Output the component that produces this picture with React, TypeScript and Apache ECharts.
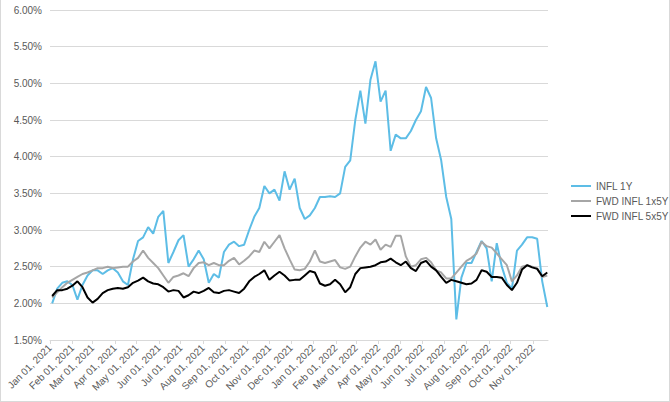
import React, { useEffect, useRef } from "react";
import * as echarts from "echarts";

// Weekly sample points starting Monday 2021-01-04 (one value per week per series)
const START = [2021, 0, 4];
const WEEKS = 99;

const INFL_1Y = [
  2.0, 2.2, 2.28, 2.3, 2.25, 2.05, 2.25, 2.38, 2.45, 2.45,
  2.4, 2.45, 2.48, 2.42, 2.3, 2.25, 2.6, 2.85, 2.9, 3.04,
  2.95, 3.18, 3.26, 2.55, 2.7, 2.86, 2.93, 2.5, 2.6, 2.72,
  2.6, 2.28, 2.4, 2.35, 2.7, 2.8, 2.84, 2.78, 2.8, 3.0,
  3.18, 3.3, 3.6, 3.5, 3.55, 3.4, 3.8, 3.55, 3.7, 3.3,
  3.15, 3.2, 3.3, 3.45, 3.45, 3.46, 3.45, 3.5, 3.86, 3.95,
  4.5, 4.9, 4.45, 5.05, 5.3, 4.75, 4.9, 4.08, 4.3, 4.25,
  4.25, 4.35, 4.5, 4.62, 4.95, 4.8, 4.25, 3.95, 3.45, 3.15,
  1.78, 2.35, 2.55, 2.55, 2.7, 2.85, 2.75, 2.3, 2.82, 2.5,
  2.28, 2.2, 2.72, 2.8, 2.9, 2.9, 2.88, 2.3, 1.95,
];

const FWD_1X5Y = [
  2.08, 2.15, 2.22, 2.28, 2.32, 2.36, 2.4, 2.42, 2.45, 2.48,
  2.48, 2.5, 2.48, 2.49, 2.5, 2.5, 2.57, 2.62, 2.72, 2.62,
  2.55, 2.48, 2.38, 2.28, 2.36, 2.38, 2.41, 2.37, 2.48, 2.55,
  2.56, 2.52, 2.55, 2.52, 2.52, 2.58, 2.62, 2.53, 2.58, 2.64,
  2.72, 2.7, 2.84, 2.75, 2.84, 2.93, 2.75, 2.6, 2.46, 2.45,
  2.47, 2.57, 2.72, 2.57, 2.55, 2.57, 2.59, 2.49, 2.47, 2.5,
  2.64, 2.76, 2.84, 2.8, 2.87, 2.73, 2.8, 2.77, 2.92, 2.92,
  2.64, 2.5, 2.52, 2.6, 2.62, 2.56, 2.45, 2.42, 2.34, 2.34,
  2.42, 2.5, 2.58, 2.62, 2.68, 2.84, 2.78, 2.76, 2.68, 2.6,
  2.52, 2.3, 2.38, 2.5, 2.52, 2.5, 2.48, 2.36, 2.38,
];

const FWD_5X5Y = [
  2.1, 2.18, 2.18, 2.2, 2.24, 2.3, 2.22, 2.08, 2.01, 2.06,
  2.14, 2.18, 2.2, 2.21, 2.2, 2.22, 2.28, 2.31, 2.35, 2.3,
  2.27, 2.26, 2.22, 2.16, 2.18, 2.17, 2.08, 2.11, 2.16, 2.14,
  2.17, 2.21, 2.15, 2.14, 2.17, 2.18, 2.16, 2.14, 2.2, 2.3,
  2.36, 2.4, 2.45, 2.32, 2.38, 2.43, 2.38, 2.31, 2.32, 2.32,
  2.38, 2.44, 2.42, 2.27, 2.24, 2.26, 2.32, 2.26, 2.15, 2.22,
  2.4, 2.48, 2.49, 2.5, 2.52, 2.56, 2.57, 2.61, 2.56, 2.52,
  2.57, 2.48, 2.44, 2.55, 2.58, 2.5, 2.45, 2.36, 2.28, 2.32,
  2.3, 2.28, 2.26, 2.27, 2.32, 2.45, 2.43, 2.36, 2.36, 2.35,
  2.25, 2.18, 2.28, 2.46, 2.52, 2.49, 2.47, 2.37, 2.42,
];

const SERIES_NAMES = ["INFL 1Y", "FWD INFL 1x5Y", "FWD INFL 5x5Y"];
const SERIES_COLORS = ["#5DBDE6", "#A6A6A6", "#000000"];
const MONTHS = ["Jan", "Feb", "Mar", "Apr", "May", "Jun", "Jul", "Aug", "Sep", "Oct", "Nov", "Dec"];

const AXIS_MIN = new Date(2021, 0, 1).getTime();
const AXIS_MAX = new Date(2022, 10, 22).getTime();

function weekDates(): number[] {
  const out: number[] = [];
  for (let i = 0; i < WEEKS; i++) {
    out.push(new Date(START[0], START[1], START[2] + 7 * i).getTime());
  }
  return out;
}

function fmtDate(v: number): string {
  const d = new Date(v);
  const dd = String(d.getDate()).padStart(2, "0");
  return `${MONTHS[d.getMonth()]} ${dd}, ${d.getFullYear()}`;
}

export default function App() {
  const ref = useRef<HTMLDivElement>(null);
  useEffect(() => {
    if (!ref.current) return;
    const chart = echarts.init(ref.current, null, { renderer: "svg" });
    const dates = weekDates();
    const all = [INFL_1Y, FWD_1X5Y, FWD_5X5Y];
    const textStyle = { color: "#595959", fontFamily: "Liberation Sans, Arial, sans-serif", fontSize: 10 };
    chart.setOption({
      animation: false,
      backgroundColor: "#ffffff",
      grid: { left: 50, right: 122, top: 10, bottom: 62, containLabel: false, outerBoundsMode: "none" },
      legend: {
        orient: "vertical",
        left: 566,
        top: 176,
        itemWidth: 20,
        itemHeight: 2,
        itemGap: 5,
        icon: "rect",
        textStyle,
        data: SERIES_NAMES,
      },
      xAxis: {
        type: "time",
        min: AXIS_MIN,
        max: AXIS_MAX,
        minInterval: 28 * 86400000,
        maxInterval: 30 * 86400000,
        axisLine: { lineStyle: { color: "#D9D9D9" } },
        axisTick: { show: true, length: 4, lineStyle: { color: "#D9D9D9" } },
        splitLine: { show: false },
        axisLabel: {
          ...textStyle,
          rotate: 45,
          margin: 6,
          formatter: (v: number) => fmtDate(v),
          showMinLabel: true,
          showMaxLabel: false,
        },
      },
      yAxis: {
        type: "value",
        min: 1.5,
        max: 6,
        interval: 0.5,
        axisLine: { show: false },
        axisTick: { show: false },
        splitLine: { lineStyle: { color: "#D9D9D9" } },
        axisLabel: { ...textStyle, margin: 8, formatter: (v: number) => v.toFixed(2) + "%" },
      },
      series: all.map((vals, i) => ({
        name: SERIES_NAMES[i],
        type: "line",
        showSymbol: false,
        symbol: "none",
        color: SERIES_COLORS[i],
        lineStyle: { width: 2, color: SERIES_COLORS[i] },
        data: vals.map((v, j) => [dates[j], v]),
      })),
      graphic: [
        { type: "line", shape: { x1: 0.5, y1: 0, x2: 0.5, y2: 402 }, style: { stroke: "#D9D9D9", lineWidth: 1 } },
        { type: "line", shape: { x1: 669.5, y1: 0, x2: 669.5, y2: 402 }, style: { stroke: "#D9D9D9", lineWidth: 1 } },
        { type: "line", shape: { x1: 0, y1: 401.5, x2: 670, y2: 401.5 }, style: { stroke: "#D9D9D9", lineWidth: 1 } },
      ],
    });
    return () => chart.dispose();
  }, []);
  return (
    <div
      ref={ref}
      style={{ position: "fixed", left: 0, top: 0, width: 670, height: 402 }}
    />
  );
}
